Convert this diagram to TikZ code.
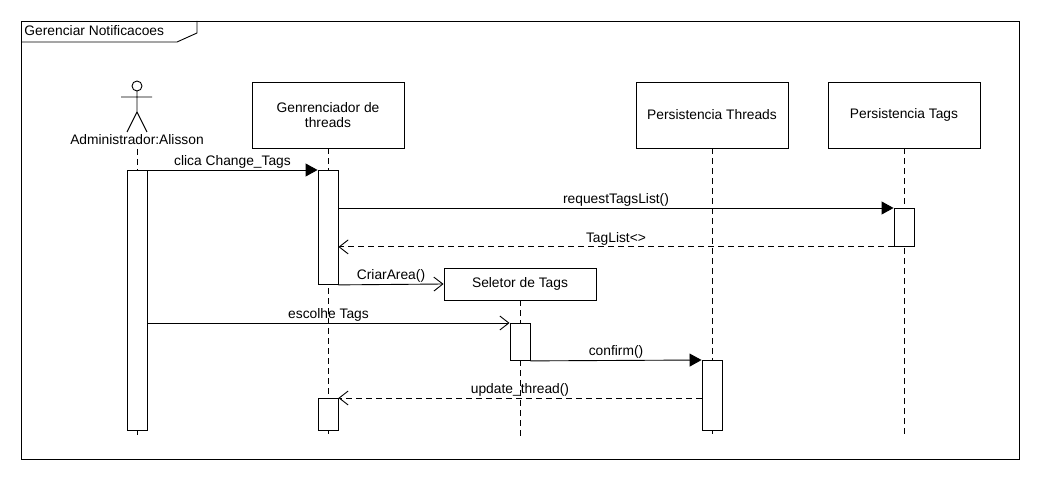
\documentclass[tikz,border=0pt]{standalone}
\usepackage{fontspec}
\setmainfont{Liberation Sans}
\usetikzlibrary{arrows.meta,positioning,calc}

\begin{document}
\begin{tikzpicture}[x=1bp,y=-1bp,line width=0.9bp,
    every node/.style={font=\fontsize{13.8bp}{15bp}\selectfont},
    obj/.style={draw,fill=white,minimum width=152bp,minimum height=66bp,align=center,inner sep=0pt},
    act/.style={draw,fill=white,minimum width=20bp,anchor=north,inner sep=0pt},
    life/.style={dash pattern=on 6bp off 4bp},
    call/.style={-{Triangle[length=12bp,width=13bp]}},
    msg/.style={-{Straight Barb[length=9bp,width=14bp]}},
    reply/.style={msg,dash pattern=on 6bp off 4bp},
    lbl/.style={midway,above,inner sep=1.5bp}]
  \useasboundingbox (0,0) rectangle (1040,480);

% frame
  \draw (21,21) rectangle (1019,459);
  \draw (21,42) -- (177,42) -- (197,33) -- (197,21);
  \node[anchor=west,inner sep=0pt] (frm) at (24,31) {Gerenciar Notificacoes};

% actor
  \coordinate (adm) at (137,86);
  \draw (adm) circle[radius=5bp];
  \draw (137,91) -- (137,112) -- (127,132) (137,112) -- (147,132) (121,97) -- (152,97);
  \node (admname) at (137,140) {Administrador:Alisson};

% objects
  \node[obj] (gen) at (328,115) {Genrenciador de\\threads};
  \node[obj] (pth) at (712,115) {Persistencia Threads};
  \node[obj] (ptg) at (904,115) {Persistencia Tags};

% lifelines
  \draw[life] (admname.south) -- (137,437);
  \draw[life] (gen.south) -- ++(0,289);
  \draw[life] (pth.south) -- ++(0,289);
  \draw[life] (ptg.south) -- ++(0,289);

% created object
  \node[obj,minimum height=32bp] (sel) at (520,284) {Seletor de Tags};
  \draw[life] (sel.south) -- ++(0,140);

% activations
  \node[act,minimum height=260bp] (a0) at (137,170) {};
  \node[act,minimum height=114bp] (a1) at (328,170) {};
  \node[act,minimum height=38bp] (a2) at (904,208) {};
  \node[act,minimum height=37bp] (a3) at (520,323) {};
  \node[act,minimum height=70bp] (a4) at (712,360) {};
  \node[act,minimum height=32bp] (a5) at (328,398) {};

% messages
  \draw[call] (a0.north east) -- node[lbl] {clica Change\_Tags} (a1.north west);
  \draw[call] (a1.east |- a2.north) -- node[lbl] {requestTagsList()} (a2.north west);
  \draw[reply] (a2.south west) -- node[lbl] {TagList<>} (a1.east |- a2.south);
  \draw[msg] (a1.south east) -- node[lbl] {CriarArea()} (sel.west);
  \draw[msg] (a0.east |- a3.north) -- node[lbl] {escolhe Tags} (a3.north west);
  \draw[call] (a3.south east) -- node[lbl] {confirm()} (a4.north west);
  \draw[reply] (a4.west |- a5.north) -- node[lbl] {update\_thread()} (a5.north east);
\end{tikzpicture}
\end{document}
